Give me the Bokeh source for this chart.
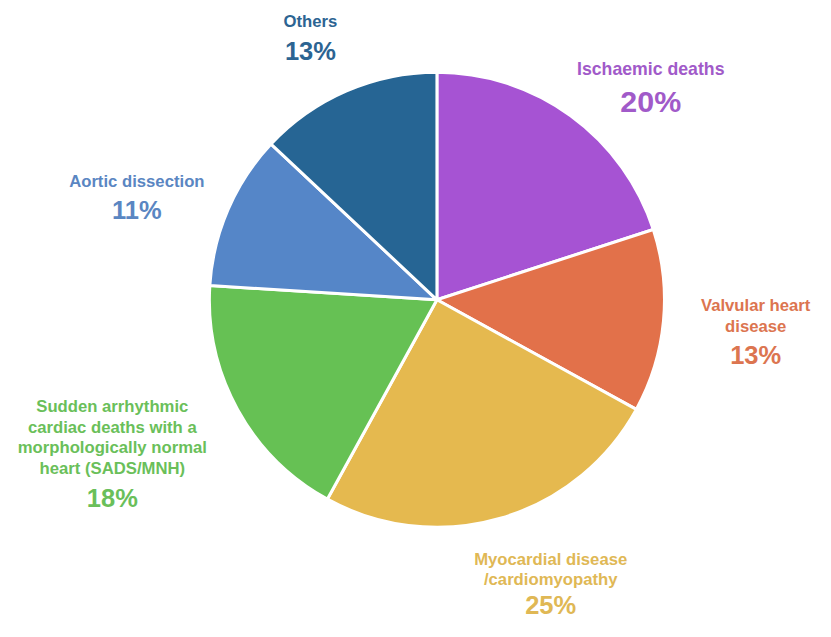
from math import pi
from bokeh.plotting import figure
from bokeh.embed import file_html
from bokeh.resources import INLINE
from bokeh.models import ColumnDataSource
from bokeh.core.properties import value

# ---- data ----
categories = [
    "Ischaemic deaths",
    "Valvular heart\ndisease",
    "Myocardial disease\n/cardiomyopathy",
    "Sudden arrhythmic\ncardiac deaths with a\nmorphologically normal\nheart (SADS/MNH)",
    "Aortic dissection",
    "Others",
]
percent = [20, 13, 25, 18, 11, 13]

# ---- styles / layout ----
colors = ["#A653D3", "#E2714A", "#E5B94F", "#66C154", "#5586C8", "#266594"]
text_colors = ["#A15AC9", "#DC7550", "#E0B855", "#6ABF5A", "#5A86C2", "#2C6492"]
W, H = 815, 621          # pixel size of the plot
RW, RH = 831, 637        # layout units (reference frame)
S = W / RW
cx, cy, R = 445, RH - 307, 232
# label anchor: center x, first line y, line spacing, pct offset, sizes (layout units)
label_layout = [
    (663, 70, 21, 33, 18, 31),
    (770, 313, 21, 30, 17, 26),
    (561, 573, 21, 26, 17, 26),
    (114, 416, 21.5, 30, 17, 26),
    (139, 186, 21, 29, 17, 26),
    (316, 22, 21, 30, 17, 26),
]

total = float(sum(percent))
starts, ends = [], []
acc = 0.0
for v in percent:
    starts.append(pi / 2 - 2 * pi * acc / total)
    acc += v
    ends.append(pi / 2 - 2 * pi * acc / total)

src = ColumnDataSource(dict(x=[cx] * len(percent), y=[cy] * len(percent),
                            start=starts, end=ends, color=colors))

p = figure(width=W, height=H, output_backend="svg", toolbar_location=None,
           x_range=(0, RW), y_range=(0, RH), min_border=0,
           x_axis_location=None, y_axis_location=None)
p.grid.visible = False
p.outline_line_color = None

p.wedge(x="x", y="y", radius=R, radius_units="data", start_angle="start", end_angle="end",
        direction="clock", fill_color="color", line_color="white", line_width=3, source=src)

font = value("Liberation Sans")
for cat, pct, col, (lx, ly, sp, poff, fs, pfs) in zip(categories, percent, text_colors, label_layout):
    lines = cat.split("\n")
    xs = [lx] * len(lines)
    ys = [RH - (ly + i * sp) for i in range(len(lines))]
    p.text(x=xs, y=ys, text=lines, text_font=font, text_font_style="bold",
           text_font_size=f"{fs * S:.1f}px", text_color=col, text_align="center",
           text_baseline="middle")
    py = ly + (len(lines) - 1) * sp + poff
    p.text(x=[lx], y=[RH - py], text=[f"{pct}%"], text_font=font, text_font_style="bold",
           text_font_size=f"{pfs * S:.1f}px", text_color=col, text_align="center",
           text_baseline="middle")

open("out.html", "w").write(file_html(p, INLINE))
